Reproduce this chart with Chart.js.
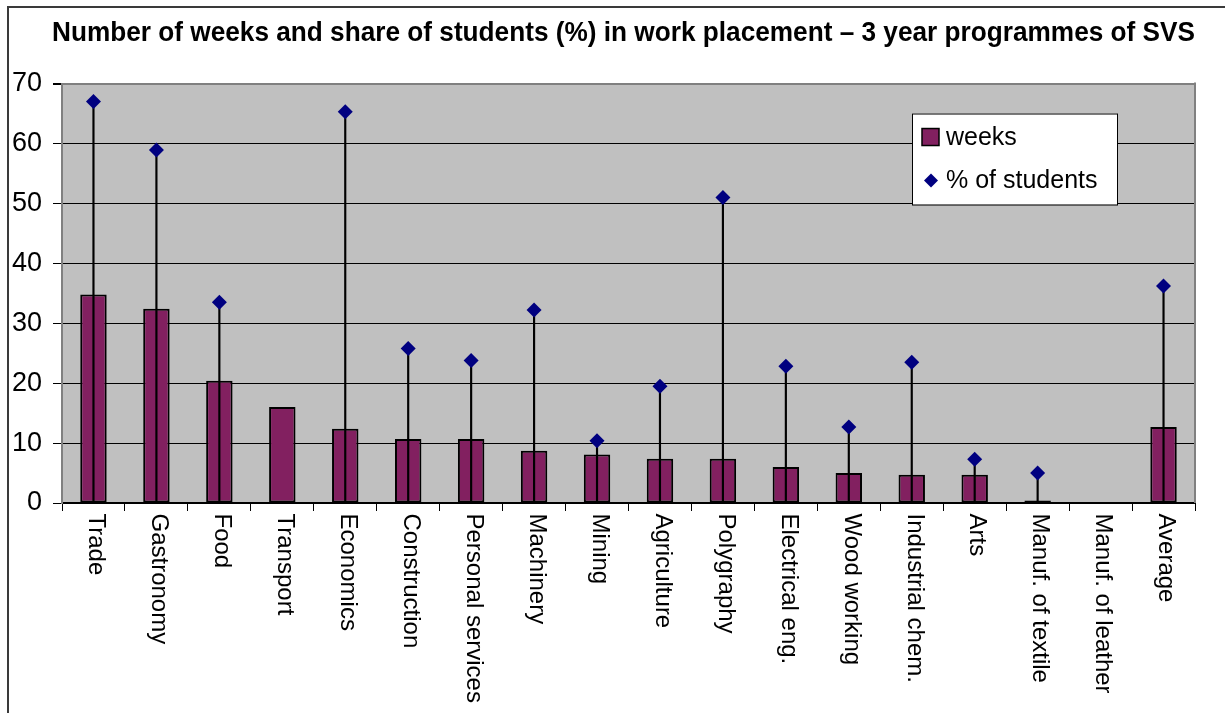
<!DOCTYPE html>
<html lang="en">
<head>
<meta charset="UTF-8">
<title>Work placement - 3 year programmes of SVS</title>
<script src="https://cdn.jsdelivr.net/npm/chart.js@4.4.0/dist/chart.umd.min.js"></script>
<style>
    html, body { margin: 0; padding: 0; background: #fff; }
    .chart-box { position: relative; width: 1225px; height: 713px; }
</style>
</head>
<body>
<div class="chart-box"><canvas id="placementChart" width="1225" height="713"></canvas></div>
<script>
const categories = ['Trade', 'Gastronomy', 'Food', 'Transport', 'Economics', 'Construction',
    'Personal services', 'Machinery', 'Mining', 'Agriculture', 'Polygraphy', 'Electrical eng.',
    'Wood working', 'Industrial chem.', 'Arts', 'Manuf. of textile', 'Manuf. of leather', 'Average'];
const weeks = [34.8, 32.4, 20.4, 16.0, 12.4, 10.7, 10.7, 8.7, 8.1, 7.4, 7.4, 6.0, 5.0, 4.7, 4.7, 0.4, null, 12.7];
const studentsPct = [67.0, 58.9, 33.5, null, 65.3, 25.8, 23.8, 32.2, 10.4, 19.5, 51.0, 22.8, 12.7, 23.5, 7.3, 5.0, null, 36.2];
const yMin = 0, yMax = 70, yStep = 10;
const seriesNames = ['weeks', '% of students'];

const FONT = '"Liberation Sans", Arial, sans-serif';
const PURPLE = '#822060';
const NAVY = '#000080';

// grey plot background + white page; title nudged right like the original
const backdrop = {
    id: 'backdrop',
    afterLayout(chart) {
        if (chart.titleBlock) {
            chart.titleBlock.left = 52;
            chart.titleBlock.right = chart.chartArea.right;
        }
    },
    beforeDraw(chart) {
        const { ctx, chartArea: a } = chart;
        ctx.save();
        ctx.fillStyle = '#fff';
        ctx.fillRect(0, 0, chart.width, chart.height);
        ctx.fillStyle = '#c0c0c0';
        ctx.fillRect(a.left, a.top, a.right - a.left, a.bottom - a.top);
        ctx.restore();
    }
};

// frame, right border, vertical category labels, legend box
const extras = {
    id: 'extras',
    afterDraw(chart) {
        const { ctx, chartArea: a } = chart;
        const xs = chart.scales.x;
        ctx.save();

        ctx.strokeStyle = '#808080';
        ctx.lineWidth = 2;
        ctx.beginPath();
        ctx.moveTo(a.right, a.top - 1);
        ctx.lineTo(a.right, a.bottom);
        ctx.stroke();

        ctx.strokeStyle = '#3a3a3a';
        ctx.lineWidth = 2;
        ctx.strokeRect(8, 7, 1400, 900);

        ctx.fillStyle = '#000';
        ctx.font = '24px ' + FONT;
        ctx.textAlign = 'left';
        ctx.textBaseline = 'alphabetic';
        categories.forEach((label, i) => {
            const x = xs.getPixelForValue(i);
            ctx.save();
            ctx.translate(x, xs.top + 10.5);
            ctx.rotate(Math.PI / 2);
            ctx.fillText(label, 0, 4.2);
            ctx.restore();
        });

        const bx = a.right - 283, by = a.top + 30, bw = 205, bh = 91;
        ctx.fillStyle = '#fff';
        ctx.fillRect(bx, by, bw, bh);
        ctx.strokeStyle = '#000';
        ctx.lineWidth = 1;
        ctx.strokeRect(bx + 0.5, by + 0.5, bw, bh);

        ctx.fillStyle = PURPLE;
        ctx.fillRect(bx + 10, by + 15, 17, 17);
        ctx.lineWidth = 1.5;
        ctx.strokeRect(bx + 10, by + 15, 17, 17);

        ctx.fillStyle = NAVY;
        const dx = bx + 19, dy = by + 67, r = 7;
        ctx.beginPath();
        ctx.moveTo(dx - r, dy);
        ctx.lineTo(dx, dy - r);
        ctx.lineTo(dx + r, dy);
        ctx.lineTo(dx, dy + r);
        ctx.closePath();
        ctx.fill();

        ctx.fillStyle = '#000';
        ctx.font = '25px ' + FONT;
        ctx.fillText(seriesNames[0], bx + 34, by + 31);
        ctx.fillText(seriesNames[1], bx + 34, by + 74);
        ctx.restore();
    }
};

new Chart(document.getElementById('placementChart'), {
    data: {
        labels: categories,
        datasets: [
            {
                type: 'line',
                label: seriesNames[1],
                data: studentsPct,
                showLine: false,
                pointStyle: 'rectRot',
                pointRadius: 7.5,
                pointHoverRadius: 7.5,
                pointBackgroundColor: NAVY,
                pointBorderColor: NAVY,
                pointBorderWidth: 0,
                order: 1
            },
            {
                type: 'bar',
                label: 'stem',
                data: studentsPct,
                backgroundColor: '#000',
                borderWidth: 0,
                barThickness: 1.5,
                grouped: false,
                order: 2
            },
            {
                type: 'bar',
                label: seriesNames[0],
                data: weeks,
                backgroundColor: PURPLE,
                borderColor: '#000',
                borderWidth: 2,
                borderSkipped: false,
                barPercentage: 0.42,
                categoryPercentage: 1,
                grouped: false,
                order: 3
            }
        ]
    },
    options: {
        responsive: false,
        animation: false,
        layout: { padding: { left: 8, right: 30, top: 0, bottom: 0 } },
        plugins: {
            legend: { display: false },
            title: {
                display: true,
                text: 'Number of weeks and share of students (%) in work placement \u2013 3 year programmes of SVS',
                color: '#000',
                font: { family: FONT, size: 27.1, weight: 'bold' },
                padding: { top: 17, bottom: 34 }
            }
        },
        scales: {
            x: {
                offset: true,
                grid: {
                    display: true,
                    offset: true,
                    drawOnChartArea: false,
                    drawTicks: true,
                    tickLength: 8,
                    color: '#000'
                },
                border: { color: '#000', width: 2 },
                ticks: { display: false },
                afterFit(scale) { scale.height = 210; }
            },
            y: {
                min: yMin,
                max: yMax,
                grid: {
                    color: (c) => c.tick && c.tick.value === yMax ? '#808080' : '#000',
                    lineWidth: (c) => c.tick && c.tick.value === yMax ? 2 : 1,
                    tickColor: '#000',
                    tickLength: 9
                },
                border: { color: '#808080', width: 2 },
                ticks: {
                    stepSize: yStep,
                    color: '#000',
                    padding: 11,
                    font: { family: FONT, size: 27 }
                },
                afterFit(scale) { scale.width = 54; }
            }
        }
    },
    plugins: [backdrop, extras]
});
</script>
</body>
</html>
